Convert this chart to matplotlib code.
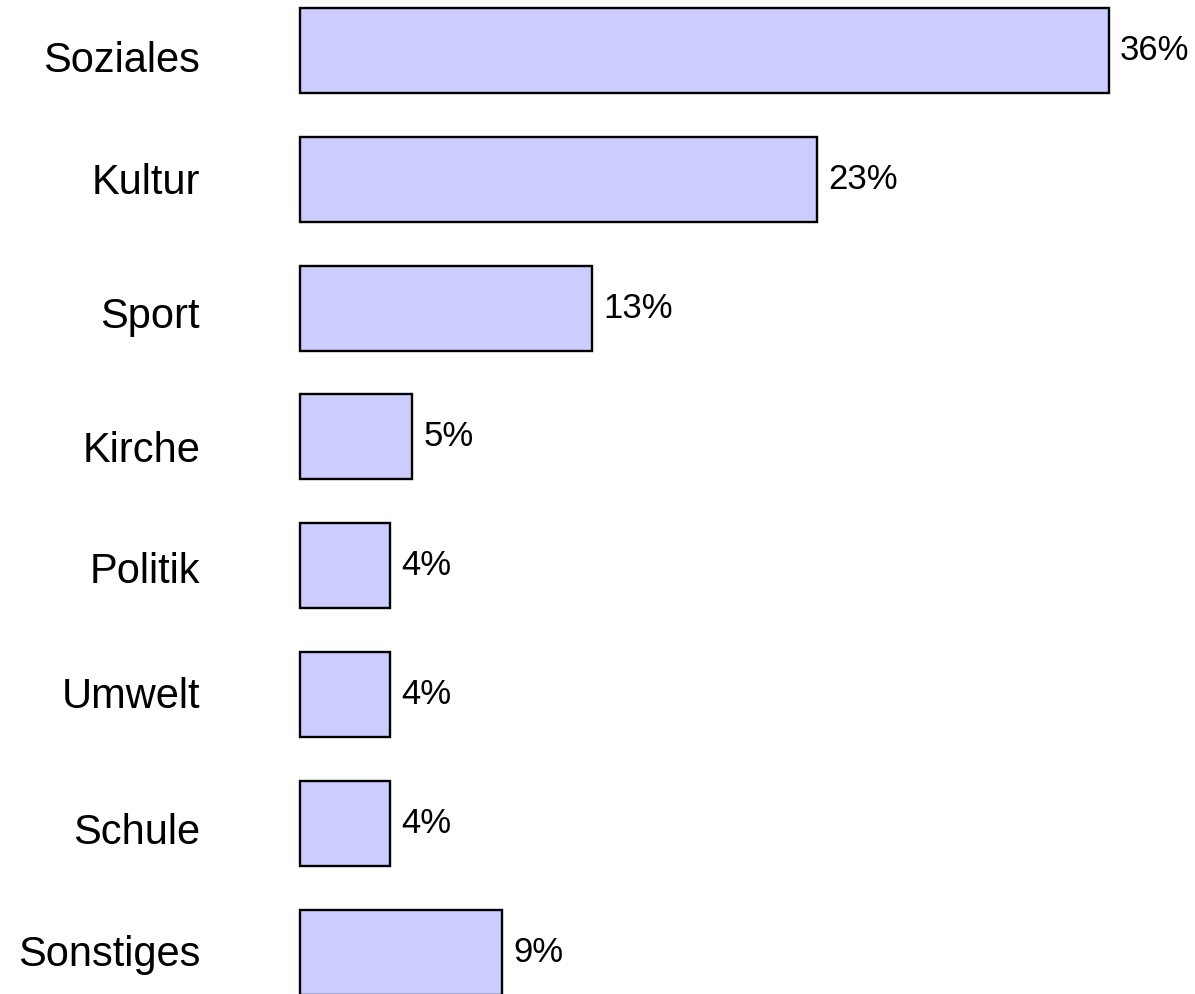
import matplotlib

matplotlib.use("Agg")
import matplotlib.pyplot as plt
from matplotlib.transforms import ScaledTranslation

# Daten
categories = ["Soziales", "Kultur", "Sport", "Kirche", "Politik", "Umwelt", "Schule", "Sonstiges"]
shares = [36, 23, 13, 5, 4, 4, 4, 9]
labels = [f"{v}%" for v in shares]

plt.rcParams["font.family"] = ["Liberation Sans", "DejaVu Sans"]

W, H, DPI = 1195, 994, 100
fig = plt.figure(figsize=(W / DPI, H / DPI), dpi=DPI)

px_per_unit = 22.47
row_px = 128.8
first_center = 50.5
ax = fig.add_axes([300 / W, 0, 890 / W, 1])
ax.set_xlim(0, 890 / px_per_unit)
ax.set_ylim((H - first_center) / row_px, -first_center / row_px)

pos = list(range(len(categories)))
bars = ax.barh(pos, shares, height=0.66, color="#ccccff", edgecolor="black",
               linewidth=1.7, clip_on=False)
ax.bar_label(bars, labels=labels, padding=8, fontsize=25)

ax.set_yticks(pos, categories, fontsize=30)
ax.tick_params(axis="y", length=0, pad=72)
ax.set_xticks([])
for s in ax.spines.values():
    s.set_visible(False)

# die Beschriftungen sitzen im Original nicht ganz mittig
shift_px = [6, -1, 4, 10, 2, -2, 5, -2]
for lab, d in zip(ax.get_yticklabels(), shift_px):
    lab.set_transform(lab.get_transform() + ScaledTranslation(0, -d / DPI, fig.dpi_scale_trans))

fig.savefig("out.png", dpi=DPI)
